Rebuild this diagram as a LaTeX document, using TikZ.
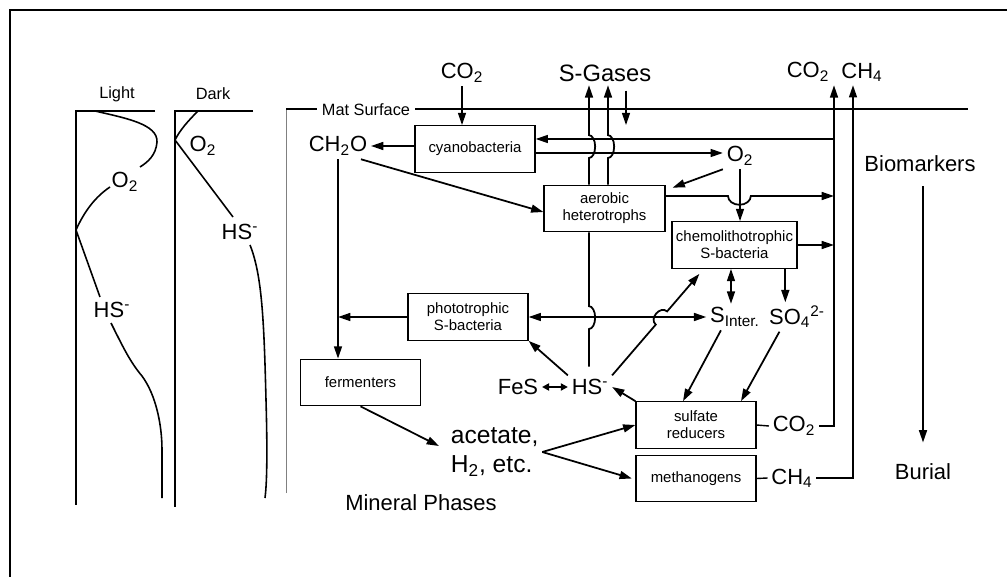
\documentclass[tikz,border=0pt]{standalone}
\usepackage{fontspec}
\setmainfont{Liberation Sans}
\usetikzlibrary{arrows.meta,calc}
\newcommand{\labfont}{\fontsize{12.5}{14}\selectfont}
\newcommand{\bxfont}{\fontsize{8.5}{9.8}\selectfont}
\newcommand{\smfont}{\fontsize{9.3}{11}\selectfont}
\tikzset{
  microbe/.style={
    draw,
    line width=0.7pt,
    minimum width=2.4cm,
    minimum height=0.93cm,
    align=center,
    inner sep=1pt,
    font=\bxfont
  },
  species/.style={
    inner sep=2pt,
    font=\labfont
  },
  flux/.style={line width=1pt, -{Triangle[length=7pt,width=4.5pt]}},
  dflux/.style={line width=1pt, {Triangle[length=7pt,width=4.5pt]}-{Triangle[length=7pt,width=4.5pt]}},
  equil/.style={line width=1pt, {Triangle[length=4pt,width=4pt]}-{Triangle[length=4pt,width=4pt]}},
  profile/.style={line width=0.9pt},
  axis/.style={line width=1.3pt}
}

\begin{document}
\begin{tikzpicture}[x=0.02cm, y=-0.02cm]
    \useasboundingbox (0,0) rectangle (1007,577);
    \draw[line width=1.4pt] (10,577) -- (10,10) -- (1007,10);

    % depth profiles
    \node[font=\smfont] (light) at (117,94) {Light};
    \node[font=\smfont] (dark) at (213,94) {Dark};
    \draw[axis] (155,111) -- (76,111) -- (76,505);
    \draw[axis] (253,111) -- (175,111) -- (175,507);
    \node[species] (o2l) at (125,182) {O\textsubscript{2}};
    \node[species] (hsl) at (112,310) {HS\textsuperscript{-}};
    \node[species] (o2d) at (203,146) {O\textsubscript{2}};
    \node[species] (hsd) at (240,232) {HS\textsuperscript{-}};
    \draw[profile] (95,111) .. controls (125,118) and (158,124) .. (157,142) .. controls (156,155) and (148,162) .. (140,167);
    \draw[profile] (110,187) .. controls (95,197) and (84,212) .. (76,230) -- (100,297);
    \draw[profile] (111,323) .. controls (122,345) and (130,362) .. (142,376) .. controls (156,395) and (162,425) .. (162,450) -- (162,498);
    \draw[profile] (198,111) .. controls (188,121) and (180,130) .. (175,140) -- (233,217);
    \draw[profile] (250,245) .. controls (262,275) and (264,320) .. (266,400) .. controls (268,470) and (266,490) .. (265,498);

    % mat
    \draw[gray, line width=0.5pt] (286,493) -- (286,109);
    \draw[line width=0.8pt] (286,109) -- (968,109);
    \node[font=\smfont, fill=white, inner sep=3pt] (mat) at (366,110) {Mat Surface};

    \coordinate (cin) at (834,139);
    \coordinate (cout) at (600,153);
    \coordinate (xch4) at (853,0);
    \coordinate (sg1) at (589,158);
    \coordinate (sg2) at (608,158);
    \coordinate (sg3) at (626,0);
    \coordinate (ha) at (728,196);
    \coordinate (hb) at (589,329);

    \node[species] (co2a) at (462,73) {CO\textsubscript{2}};
    \node[species, font=\fontsize{13.5}{15}\selectfont] (sgas) at (605,73) {S-Gases};
    \node[species] (co2b) at (808,72) {CO\textsubscript{2}};
    \node[species] (ch4b) at (862,72) {CH\textsubscript{4}};
    \node[species] (ch2o) at (338,146) {CH\textsubscript{2}O};
    \node[species] (o2m) at (740,156) {O\textsubscript{2}};
    \node[species] (bio) at (920,164) {Biomarkers};
    \node[species] (burial) at (923,472) {Burial};
    \node[species] (sint) at (735,317) {S\textsubscript{Inter.}};
    \node[species] (so4) at (797,317) {SO\textsubscript{4}\textsuperscript{2-}};
    \node[species] (fes) at (518,387) {FeS};
    \node[species] (hs) at (590,387) {HS\textsuperscript{-}};
    \node[species, font=\fontsize{14}{17}\selectfont, align=left, anchor=west] (acet) at (447,452) {acetate,\\H\textsubscript{2}, etc.};
    \node[species] (co2c) at (794,426) {CO\textsubscript{2}};
    \node[species] (ch4c) at (792,478) {CH\textsubscript{4}};
    \node[species] (mineral) at (421,503) {Mineral Phases};

    \node[microbe] (cyano) at (475,149) {cyanobacteria};
    \node[microbe, minimum width=2.42cm] (aerobic) at (604.5,208.5) {aerobic\\heterotrophs};
    \node[microbe, minimum width=2.5cm] (chemo) at (734.5,245) {chemolithotrophic\\S-bacteria};
    \node[microbe] (photo) at (468,317) {phototrophic\\S-bacteria};
    \node[microbe] (ferment) at (360.5,382.5) {fermenters};
    \node[microbe] (sulfred) at (696,425) {sulfate\\reducers};
    \node[microbe] (methan) at (696,478.5) {methanogens};
    \coordinate (chtip) at ($(chemo.south west)+(28,5)$);

    % carbon
    \draw[flux] (co2a.south) -- (co2a.south |- cyano.north);
    \draw[flux] (cyano.west |- ch2o.east) -- (ch2o.east);
    \draw[flux] (ch2o.-30) -- ([yshift=-2pt]aerobic.west);
    \draw[flux] (ch2o.south) -- (ch2o.south |- ferment.north);
    \draw[flux] (photo.west) -- (ch2o.south |- photo.west);
    \draw[flux] (ferment.south) -- ([shift={(-8,-6)}]acet.west);
    \draw[flux] (acet.east) -- (sulfred.west);
    \draw[flux] (acet.east) -- ([xshift=-2pt]methan.west);

    % sulfur
    \draw[flux] (sulfred.north west) -- (hs.east);
    \draw[equil] (fes.east) -- (hs.west);
    \draw[flux] (hs.north west) -- (photo.south east);
    \draw[flux] (hs.north east) -- ($(hs.north east)!0.50!(chtip)$) .. controls +(-7,-6) and +(-7,-6) .. ($(hs.north east)!0.63!(chtip)$) -- (chtip);
    \draw[shorten <=5pt, line width=1pt] (hb |- hs.north) -- (hb) arc[start angle=-90, end angle=90, x radius=3.5pt, y radius=6.5pt] -- (hb |- aerobic.south);
    \draw[dflux] (photo.east) -- (sint.west |- photo.east);
    \draw[dflux] ([xshift=-2pt]chemo.south) -- ([xshift=-2pt]chemo.south |- sint.north);
    \draw[flux] ([xshift=-7pt]chemo.south east) -- ([xshift=-7pt]chemo.south east |- so4.north);
    \draw[flux] ([xshift=-8pt]sint.south) -- ($(sulfred.north)+(-13,0)$);
    \draw[flux] ([xshift=-10pt]so4.south) -- ($(sulfred.north)+(45,0)$);

    % s-gases
    \draw[flux] (aerobic.north -| sg1) -- (sg1) arc[start angle=-90, end angle=90, x radius=3.5pt, y radius=6.5pt] -- (sg1 |- sgas.south);
    \draw[flux] (aerobic.north -| sg2) -- (sg2) arc[start angle=-90, end angle=90, x radius=3.5pt, y radius=6.5pt] -- (sg2 |- sgas.south);
    \draw[flux, shorten <=3pt] (sgas.south -| sg3) -- (sg3 |- cyano.north);

    % oxygen
    \draw[flux] (cyano.east |- cout) -- (o2m.west |- cout);
    \draw[flux] (cin) -- (cyano.east |- cin);
    \draw[flux] (o2m.south west) -- ([shift={(7,3)}]aerobic.north east);
    \draw[flux] (o2m.south) -- (o2m.south |- chemo.north);

    % biomarkers
    \draw[flux] (aerobic.east |- ha) -- (ha) arc[start angle=180, end angle=360, x radius=6.5pt, y radius=5pt] -- (cin |- ha);
    \draw[flux] (chemo.east) -- (cin |- chemo.east);
    \draw[line width=0.8pt] (sulfred.east) -- (co2c.west);
    \draw[flux] (co2c.east) -| (cin |- co2b.south);
    \draw[line width=0.8pt] (methan.east) -- (ch4c.west);
    \draw[flux] (ch4c.east) -| (xch4 |- ch4b.south);
    \draw[flux, shorten <=6pt, shorten >=10pt] (burial.north |- bio.south) -- (burial.north);
\end{tikzpicture}
\end{document}
